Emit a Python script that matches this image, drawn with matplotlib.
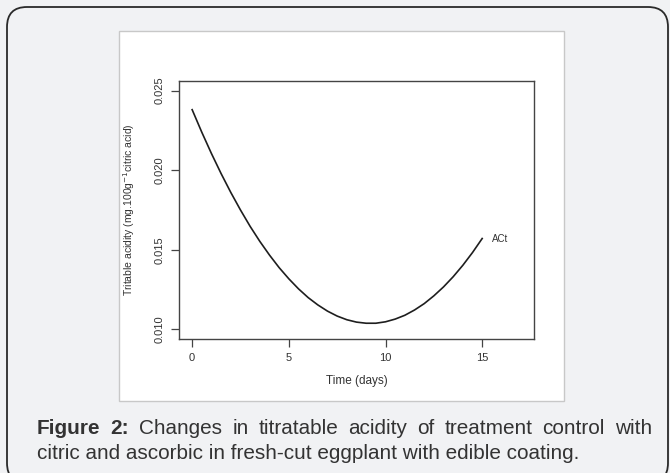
import matplotlib
matplotlib.use("Agg")
import matplotlib.pyplot as plt
from matplotlib.patches import FancyBboxPatch, Rectangle
from matplotlib.transforms import IdentityTransform

# ---- data ----
days = [0, 0.5, 1, 1.5, 2, 2.5, 3, 3.5, 4, 4.5, 5, 5.5, 6, 6.5, 7, 7.5,
        8, 8.5, 9, 9.5, 10, 10.5, 11, 11.5, 12, 12.5, 13, 13.5, 14, 14.5, 15]
acidity = [0.02380, 0.02238, 0.02104, 0.01978, 0.01860, 0.01750, 0.01647,
           0.01553, 0.01467, 0.01388, 0.01318, 0.01255, 0.01200, 0.01154,
           0.01115, 0.01084, 0.01061, 0.01046, 0.01039, 0.01039, 0.01048,
           0.01065, 0.01089, 0.01122, 0.01162, 0.01211, 0.01267, 0.01331,
           0.01403, 0.01483, 0.01571]
series_label = "ACt"
xticks = [0, 5, 10, 15]
yticks = [0.010, 0.015, 0.020, 0.025]
ytick_labels = ["0.010", "0.015", "0.020", "0.025"]
xlabel = "Time (days)"
ylabel = r"Tritable acidity (mg.100g$^{-1}$citric acid)"
caption_bold = "Figure 2:"
caption_line1 = "Changes in titratable acidity of treatment control with"
caption_line2 = "citric and ascorbic in fresh-cut eggplant with edible coating."

W, H = 670, 473
fig = plt.figure(figsize=(W / 100, H / 100), dpi=100)
fig.patch.set_facecolor("#f1f2f4")

# outer rounded card border
card = FancyBboxPatch((7, -10), 661, 476, boxstyle="round,pad=0,rounding_size=20",
                      transform=IdentityTransform(), facecolor="#f1f2f4",
                      edgecolor="#2a2a2a", linewidth=1.3, zorder=0)
fig.patches.append(card)
# inner white panel
panel = Rectangle((119, H - 401), 564 - 119, 401 - 31, transform=IdentityTransform(),
                  facecolor="white", edgecolor="#c8c8c8", linewidth=1.0, zorder=1)
fig.patches.append(panel)

ax = fig.add_axes([179 / W, 1 - 339 / H, (534 - 179) / W, (339 - 81) / H])
ax.set_facecolor("white")
ax.set_zorder(2)
ax.plot(days, acidity, color="#1e1e1e", linewidth=1.2)
ax.text(days[-1] + 0.5, acidity[-1], series_label, ha="left", va="center",
        fontsize=7, color="#333333", family="Liberation Sans")

ax.set_xlim(-0.68, 17.68)
ax.set_ylim(0.0094, 0.0256)
ax.set_xticks(xticks)
ax.set_xticklabels([str(t) for t in xticks])
ax.set_yticks(yticks)
ax.set_yticklabels(ytick_labels, rotation=90, va="center")
for s in ax.spines.values():
    s.set_color("#444444")
    s.set_linewidth(1.0)
ax.tick_params(axis="both", colors="#444444", labelcolor="#333333", length=6,
               width=0.9, labelsize=8, pad=4)
for lbl in ax.get_xticklabels() + ax.get_yticklabels():
    lbl.set_family("Liberation Sans")
ax.set_xlabel(xlabel, fontsize=8.5, color="#333333", family="Liberation Sans", labelpad=9)
ax.set_ylabel(ylabel, fontsize=7.5, color="#333333", family="Liberation Sans", labelpad=13)

# ---- caption (justified first line) ----
renderer = fig.canvas.get_renderer()
cap_family = ["Liberation Sans Narrow", "Liberation Sans"]
cap_color = "#333333"
x0, x1 = 37, 652
y1, y2 = H - 428, H - 453

# size so the last line spans its width in the picture
probe = fig.text(0, 0, caption_line2, fontsize=12, family=cap_family,
                 transform=IdentityTransform())
w12 = probe.get_window_extent(renderer).width
probe.remove()
fs = 12 * (582 - 37) / w12

words = [(w, "bold") for w in caption_bold.split()] + \
        [(w, "normal") for w in caption_line1.split()]
items = []
for w, wt in words:
    t = fig.text(0, y1, w, fontsize=fs, family=cap_family, weight=wt, color=cap_color,
                 va="center", ha="left", transform=IdentityTransform())
    items.append((t, t.get_window_extent(renderer).width))
total = sum(wd for _, wd in items)
gap = (x1 - x0 - total) / (len(items) - 1)
x = x0
for t, wd in items:
    t.set_x(x)
    x += wd + gap

fig.text(x0, y2, caption_line2, fontsize=fs, family=cap_family, color=cap_color,
         va="center", ha="left", transform=IdentityTransform())

fig.savefig("out.png", dpi=100, facecolor=fig.get_facecolor())
